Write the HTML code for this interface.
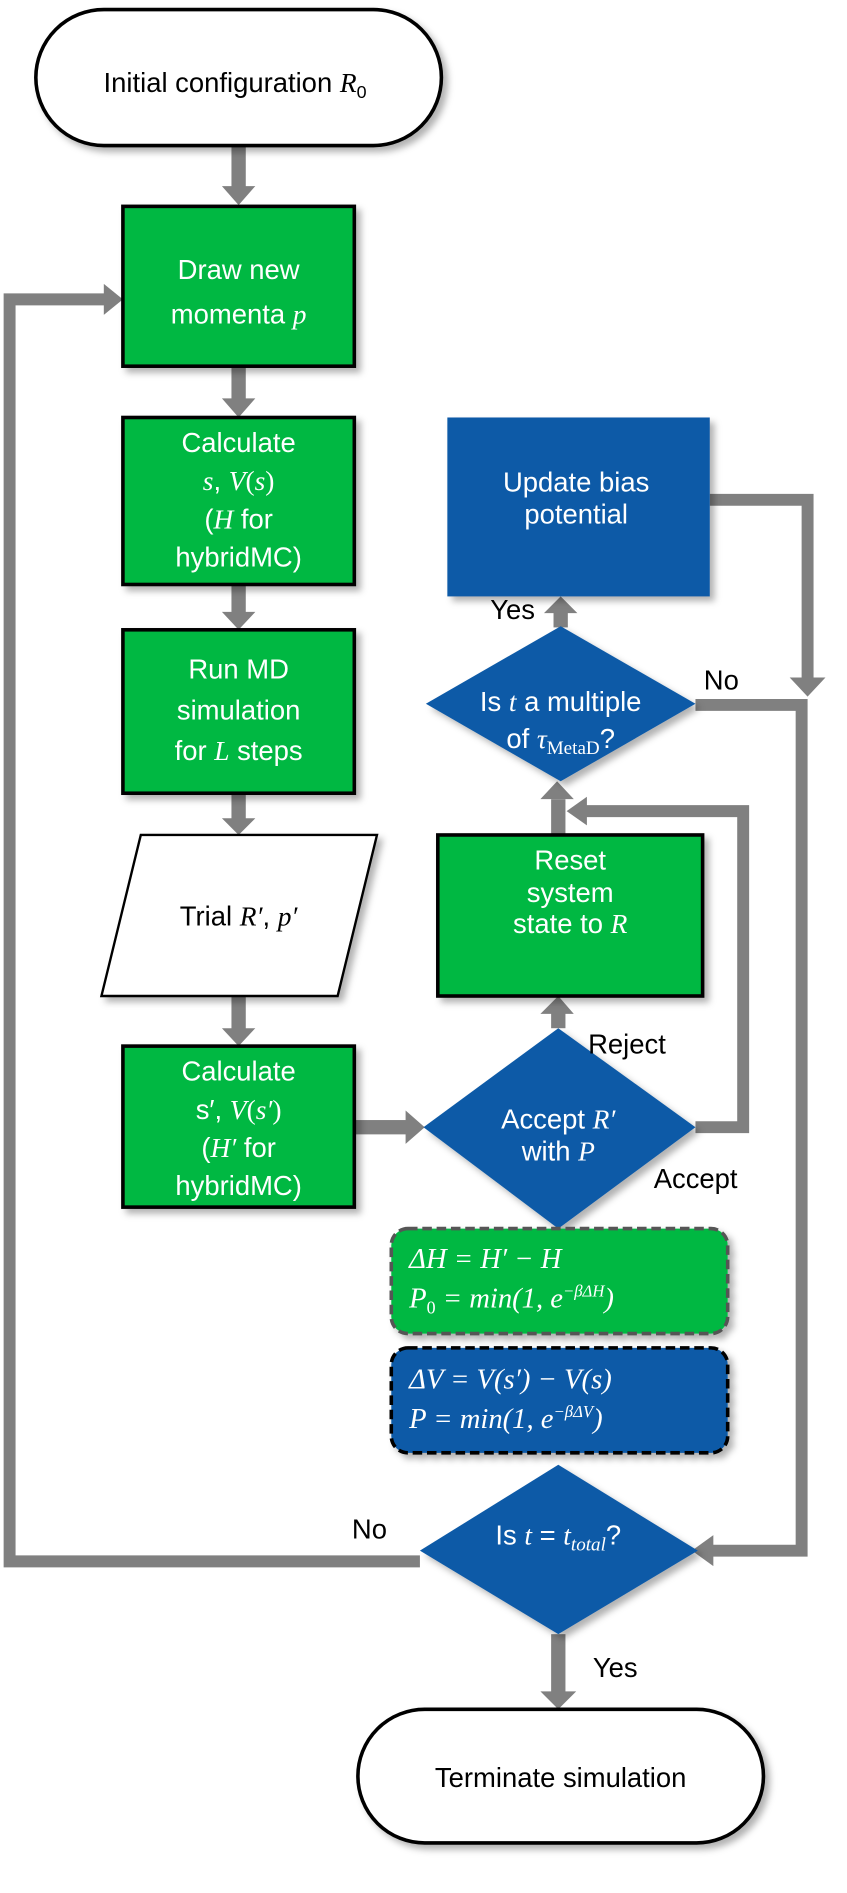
<!DOCTYPE html>
<html><head><meta charset="utf-8"><style>
html,body{margin:0;padding:0;background:#fff}
svg{display:block}
text{font-family:"Liberation Sans",sans-serif;font-size:23px}
.w{fill:#fff}
.m{font-family:"Liberation Serif",serif;font-style:italic}
.f{font-family:"Liberation Serif",serif;font-style:italic;font-size:24px;fill:#fff}
.s{font-family:"Liberation Serif",serif}
</style></head><body>
<svg width="847" height="1893" viewBox="0 0 710 1587" xmlns="http://www.w3.org/2000/svg">
<defs>
<filter id="sh" x="-10%" y="-10%" width="130%" height="130%"><feDropShadow dx="4" dy="4" stdDeviation="3" flood-color="#000" flood-opacity="0.3"/></filter>
</defs>
<g fill="#808080" stroke="none">
<rect x="194" y="122" width="12" height="36"/><polygon points="186,156 214,156 200,172"/>
<rect x="194" y="307" width="12" height="28"/><polygon points="186,334 214,334 200,350"/>
<rect x="194" y="490" width="12" height="24"/><polygon points="186,513 214,513 200,528"/>
<rect x="194" y="665" width="12" height="22"/><polygon points="186,686 214,686 200,700"/>
<rect x="194" y="835" width="12" height="28"/><polygon points="186,862 214,862 200,877"/>
<rect x="297" y="939" width="44" height="12"/><polygon points="340,931 340,959 356,945"/>
<rect x="462" y="848" width="12" height="14"/><polygon points="453,850 481,850 468,835"/>
<rect x="462" y="670" width="12" height="30"/><polygon points="453,670 481,670 467,655"/>
<path d="M583,940 L618,940 L618,685 L490,685 L490,675 L628,675 L628,950 L583,950Z"/>
<polygon points="475,680 492,668 492,692"/>
<rect x="464" y="512" width="12" height="14"/><polygon points="456,514 484,514 470,500"/>
<path d="M595,414 L682,414 L682,570 L672,570 L672,424 L595,424Z"/>
<polygon points="662,568 692,568 677,584"/>
<path d="M583,586 L677,586 L677,1305 L595,1305 L595,1295 L667,1295 L667,596 L583,596Z"/>
<polygon points="580,1300 598,1287 598,1313"/>
<path d="M352,1304 L13,1304 L13,256 L90,256 L90,246 L3,246 L3,1314 L352,1314Z"/>
<polygon points="103,251 87,238 87,264"/>
<rect x="462" y="1370" width="12" height="50"/><polygon points="453,1418 483,1418 468,1433"/>
</g>
<g filter="url(#sh)">
<rect x="30" y="8" width="340" height="114" rx="57" fill="#fff" stroke="#000" stroke-width="3"/>
<rect x="103" y="173" width="194" height="134" fill="#00b843" stroke="#000" stroke-width="3"/>
<rect x="103" y="350" width="194" height="140" fill="#00b843" stroke="#000" stroke-width="3"/>
<rect x="103" y="528" width="194" height="137" fill="#00b843" stroke="#000" stroke-width="3"/>
<polygon points="118,700 316,700 283,835 85,835" fill="#fff" stroke="#000" stroke-width="2"/>
<rect x="103" y="877" width="194" height="135" fill="#00b843" stroke="#000" stroke-width="3"/>
<rect x="375" y="350" width="220" height="150" fill="#0d5aa7"/>
<polygon points="470,525 583,590 470,655 357,590" fill="#0d5aa7"/>
<rect x="367" y="700" width="222" height="135" fill="#00b843" stroke="#000" stroke-width="3"/>
<polygon points="468,862 583,945 468,1030 355,945" fill="#0d5aa7"/>
<rect x="328" y="1030" width="282" height="88" rx="14" fill="#00b843" stroke="#555" stroke-width="3" stroke-dasharray="8,4"/>
<rect x="328" y="1130" width="282" height="88" rx="14" fill="#0d5aa7" stroke="#000" stroke-width="3" stroke-dasharray="8,4"/>
<polygon points="468,1228 585,1300 468,1370 352,1300" fill="#0d5aa7"/>
<rect x="300" y="1433" width="340" height="112" rx="56" fill="#fff" stroke="#000" stroke-width="3"/>
</g>
<g text-anchor="middle">
<text x="197" y="77">Initial configuration <tspan class="m">R</tspan><tspan font-size="15" dy="5">0</tspan></text>
<text class="w" x="200" y="234">Draw new</text>
<text class="w" x="200" y="271">momenta <tspan class="m">p</tspan></text>
<text class="w" x="200" y="379">Calculate</text>
<text class="w" x="200" y="411"><tspan class="m">s</tspan>, <tspan class="m">V</tspan><tspan class="s">(</tspan><tspan class="m">s</tspan><tspan class="s">)</tspan></text>
<text class="w" x="200" y="443">(<tspan class="m">H</tspan> for</text>
<text class="w" x="200" y="475">hybridMC)</text>
<text class="w" x="200" y="569">Run MD</text>
<text class="w" x="200" y="603">simulation</text>
<text class="w" x="200" y="637">for <tspan class="m">L</tspan> steps</text>
<text x="200" y="776">Trial <tspan class="m">R′</tspan>, <tspan class="m">p′</tspan></text>
<text class="w" x="200" y="906">Calculate</text>
<text class="w" x="200" y="938">s′, <tspan class="m">V</tspan><tspan class="s">(</tspan><tspan class="m">s′</tspan><tspan class="s">)</tspan></text>
<text class="w" x="200" y="970">(<tspan class="m">H′</tspan> for</text>
<text class="w" x="200" y="1002">hybridMC)</text>
<text class="w" x="483" y="412">Update bias</text>
<text class="w" x="483" y="439">potential</text>
<text class="w" x="470" y="596">Is <tspan class="m">t</tspan> a multiple</text>
<text class="w" x="470" y="627">of <tspan class="m">τ</tspan><tspan class="s" font-size="16" dy="5">MetaD</tspan><tspan dy="-5">?</tspan></text>
<text class="w" x="478" y="729">Reset</text>
<text class="w" x="478" y="756">system</text>
<text class="w" x="478" y="782">state to <tspan class="m">R</tspan></text>
<text class="w" x="468" y="946">Accept <tspan class="m">R′</tspan></text>
<text class="w" x="468" y="973">with <tspan class="m">P</tspan></text>
<text class="w" x="468" y="1295">Is <tspan class="m">t</tspan> = <tspan class="m">t</tspan><tspan class="m" font-size="16" dy="5">total</tspan><tspan dy="-5">?</tspan></text>
<text x="470" y="1498">Terminate simulation</text>
</g>
<text class="f" x="343" y="1063">ΔH = H′ − H</text>
<text class="f" x="343" y="1096">P<tspan font-size="15" dy="5" font-style="normal">0</tspan><tspan dy="-5"> =  min(1, e</tspan><tspan font-size="14" dy="-9">−βΔH</tspan><tspan dy="9">)</tspan></text>
<text class="f" x="343" y="1164">ΔV = V(s′) − V(s)</text>
<text class="f" x="343" y="1197">P =  min(1, e<tspan font-size="14" dy="-9">−βΔV</tspan><tspan dy="9">)</tspan></text>
<text x="411" y="519">Yes</text>
<text x="590" y="578">No</text>
<text x="493" y="883">Reject</text>
<text x="548" y="996">Accept</text>
<text x="295" y="1290">No</text>
<text x="497" y="1406">Yes</text>
</svg>
</body></html>
